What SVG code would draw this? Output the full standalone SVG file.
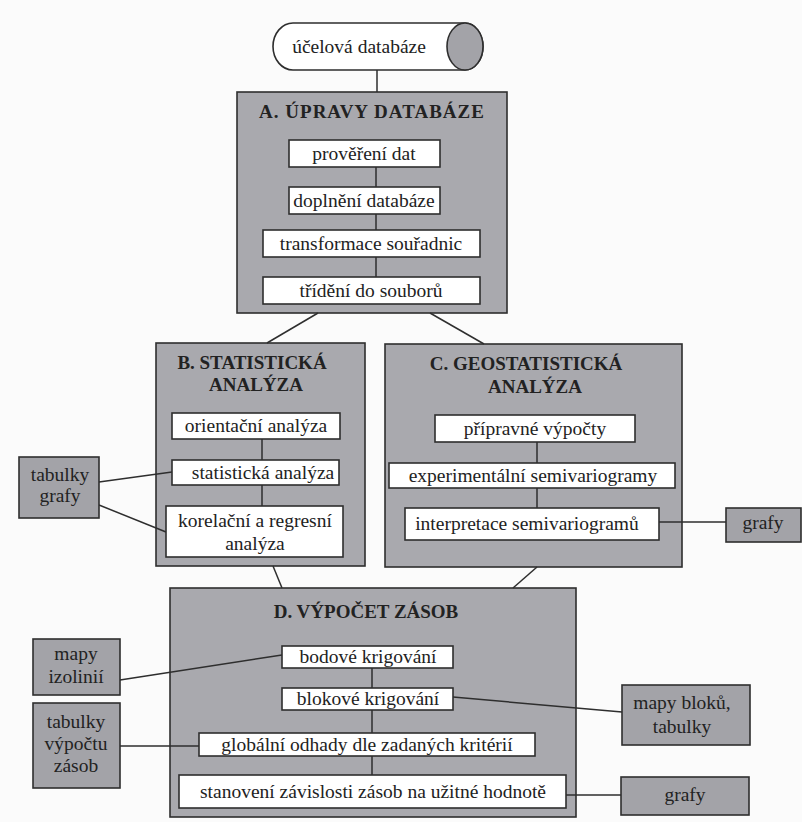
<svg xmlns="http://www.w3.org/2000/svg" width="802" height="822" viewBox="0 0 802 822">
<style>
.bg{fill:#fbfbfb}
.big{fill:#a9a9ae;stroke:#2e2e2e;stroke-width:1.6}
.sm{fill:#a3a3a8;stroke:#2e2e2e;stroke-width:1.6}
.in{fill:#ffffff;stroke:#2e2e2e;stroke-width:1.6}
.t{font-family:"Liberation Serif","Times New Roman",serif;font-size:19.5px;fill:#222;text-anchor:middle}
.h{font-family:"Liberation Serif","Times New Roman",serif;font-size:19px;font-weight:bold;fill:#222;text-anchor:middle}
.c line{stroke:#2e2e2e;stroke-width:1.5}
</style>
<rect class="bg" x="0" y="0" width="802" height="822"/>

<g id="db">
<path d="M293 23 H465 A18 23.5 0 0 1 465 70 H293 A20 23.5 0 0 1 293 23 Z" fill="#fff" stroke="#2e2e2e" stroke-width="1.6"/>
<ellipse cx="465" cy="46.5" rx="18" ry="23.5" fill="#a3a3a8" stroke="#2e2e2e" stroke-width="1.6"/>
<text class="t" x="359" y="53">účelová databáze</text>
</g>

<g id="A">
<rect class="big" x="237" y="92" width="270" height="221"/>
<text class="h" x="372" y="118" letter-spacing="1">A. ÚPRAVY DATABÁZE</text>
</g>
<g id="B">
<rect class="big" x="156" y="343" width="209" height="223"/>
<text class="h" x="252" y="369">B. STATISTICKÁ</text>
<text class="h" x="256" y="391">ANALÝZA</text>
</g>
<g id="C">
<rect class="big" x="385" y="344" width="297" height="223"/>
<text class="h" x="526" y="370">C. GEOSTATISTICKÁ</text>
<text class="h" x="535" y="393">ANALÝZA</text>
</g>
<g id="D">
<rect class="big" x="170" y="588" width="406" height="229"/>
<text class="h" x="366" y="618">D. VÝPOČET ZÁSOB</text>
</g>

<g id="connectors" class="c">
<line x1="377" y1="70" x2="377" y2="92"/>
<line x1="376" y1="167" x2="376" y2="187"/>
<line x1="376" y1="214" x2="376" y2="230"/>
<line x1="376" y1="257" x2="376" y2="277"/>
<line x1="318" y1="313" x2="267" y2="343"/>
<line x1="430" y1="313" x2="484" y2="344"/>
<line x1="262" y1="439" x2="262" y2="460"/>
<line x1="262" y1="485" x2="262" y2="506"/>
<line x1="99" y1="482" x2="172" y2="472"/>
<line x1="99" y1="505" x2="166" y2="532"/>
<line x1="273" y1="566" x2="282" y2="588"/>
<line x1="537" y1="442" x2="537" y2="463"/>
<line x1="537" y1="488" x2="537" y2="508"/>
<line x1="659" y1="522" x2="726" y2="522"/>
<line x1="537" y1="567" x2="513" y2="588"/>
<line x1="372" y1="668" x2="372" y2="688"/>
<line x1="372" y1="710" x2="372" y2="733"/>
<line x1="372" y1="756" x2="372" y2="775"/>
<line x1="120" y1="680" x2="282" y2="655"/>
<line x1="453" y1="697" x2="622" y2="712"/>
<line x1="120" y1="746" x2="199" y2="746"/>
<line x1="566" y1="795" x2="621" y2="795"/>
</g>

<g id="a1"><rect class="in" x="289" y="140" width="151" height="27"/><text class="t" x="364" y="160">prověření dat</text></g>
<g id="a2"><rect class="in" x="289" y="187" width="151" height="27"/><text class="t" x="364" y="207">doplnění databáze</text></g>
<g id="a3"><rect class="in" x="263" y="230" width="217" height="27"/><text class="t" x="371" y="250">transformace souřadnic</text></g>
<g id="a4"><rect class="in" x="263" y="277" width="217" height="27"/><text class="t" x="371" y="297">třídění do souborů</text></g>

<g id="b1"><rect class="in" x="172" y="413" width="168" height="26"/><text class="t" x="256" y="432">orientační analýza</text></g>
<g id="b2"><rect class="in" x="172" y="460" width="167" height="25"/><text class="t" x="263" y="479">statistická analýza</text></g>
<g id="b3"><rect class="in" x="166" y="506" width="177" height="51"/><text class="t" x="255" y="527">korelační a regresní</text><text class="t" x="255" y="550">analýza</text></g>

<g id="c1"><rect class="in" x="435" y="415" width="200" height="27"/><text class="t" x="535" y="435">přípravné výpočty</text></g>
<g id="c2"><rect class="in" x="389" y="463" width="286" height="25"/><text class="t" x="533" y="482">experimentální semivariogramy</text></g>
<g id="c3"><rect class="in" x="405" y="508" width="254" height="32"/><text class="t" x="527" y="530">interpretace semivariogramů</text></g>

<g id="d1"><rect class="in" x="282" y="646" width="171" height="22"/><text class="t" x="368" y="663">bodové krigování</text></g>
<g id="d2"><rect class="in" x="282" y="688" width="171" height="22"/><text class="t" x="368" y="705">blokové krigování</text></g>
<g id="d3"><rect class="in" x="199" y="733" width="336" height="23"/><text class="t" x="367" y="751">globální odhady dle zadaných kritérií</text></g>
<g id="d4"><rect class="in" x="179" y="775" width="387" height="33"/><text class="t" x="373" y="798">stanovení závislosti zásob na užitné hodnotě</text></g>

<g id="out-b"><rect class="sm" x="19" y="457" width="80" height="61"/><text class="t" x="60" y="481">tabulky</text><text class="t" x="60" y="502">grafy</text></g>
<g id="out-c"><rect class="sm" x="726" y="508" width="75" height="34"/><text class="t" x="763" y="529">grafy</text></g>
<g id="out-d1"><rect class="sm" x="33" y="639" width="87" height="56"/><text class="t" x="76" y="660">mapy</text><text class="t" x="76" y="683">izolinií</text></g>
<g id="out-d3"><rect class="sm" x="33" y="703" width="87" height="85"/><text class="t" x="76" y="728">tabulky</text><text class="t" x="76" y="750">výpočtu</text><text class="t" x="76" y="772">zásob</text></g>
<g id="out-d2"><rect class="sm" x="622" y="685" width="128" height="60"/><text class="t" x="682" y="709">mapy bloků,</text><text class="t" x="682" y="733">tabulky</text></g>
<g id="out-d4"><rect class="sm" x="621" y="777" width="128" height="38"/><text class="t" x="685" y="801">grafy</text></g>
</svg>
